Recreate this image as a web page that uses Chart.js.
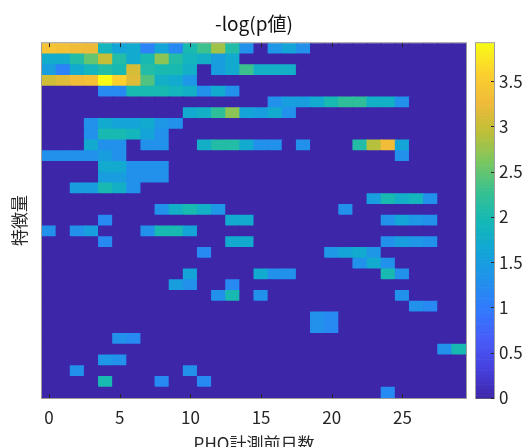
<!DOCTYPE html>
<html lang="ja">
<head>
<meta charset="utf-8">
<title>-log(p値)</title>
<script src="https://cdn.jsdelivr.net/npm/chart.js@4.4.1/dist/chart.umd.min.js"></script>
<style>
  html, body { margin: 0; padding: 0; background: #ffffff; overflow: hidden; }
  #box { width: 526px; height: 460px; }
</style>
</head>
<body>
<div id="box"><canvas id="heatmap" width="526" height="460"></canvas></div>
<script>
// PHQ計測前日数 (columns)
const days = [0, 1, 2, 3, 4, 5, 6, 7, 8, 9, 10, 11, 12, 13, 14, 15, 16, 17, 18, 19, 20, 21, 22, 23, 24, 25, 26, 27, 28, 29];
const xTicks = [0, 5, 10, 15, 20, 25];
const colorbarTicks = [0, 0.5, 1, 1.5, 2, 2.5, 3, 3.5];

// -log(p) for each 特徴量 row (top to bottom), one value per day
const logP = [
  [3.4, 3.35, 3.3, 3.25, 1.9, 1.6, 1.7, 1.1, 1.6, 1.2,  2.0, 2.3, 2.8, 2.1, 1.3, 0, 1.4, 1.6, 1.3, 0,  0, 0, 0, 0, 0, 0, 0, 0, 0, 0],
  [1.75, 1.75, 2.1, 2.5, 3.0, 2.1, 1.7, 2.0, 2.7, 2.1,  1.9, 1.8, 1.5, 1.7, 0, 0, 0, 0, 0, 0,  0, 0, 0, 0, 0, 0, 0, 0, 0, 0],
  [1.5, 1.1, 1.7, 1.9, 2.1, 2.0, 3.1, 2.1, 2.0, 2.0,  1.8, 0, 1.5, 1.7, 2.3, 1.8, 1.8, 1.8, 0, 0,  0, 0, 0, 0, 0, 0, 0, 0, 0, 0],
  [3.05, 3.15, 3.3, 3.35, 3.92, 3.6, 3.15, 2.4, 1.8, 1.7,  1.4, 0, 0, 0, 0, 0, 0, 0, 0, 0,  0, 0, 0, 0, 0, 0, 0, 0, 0, 0],
  [0, 0, 0, 0, 1.2, 1.2, 2.0, 2.0, 2.0, 1.9,  1.8, 1.3, 1.7, 1.3, 0, 0, 0, 0, 0, 0,  0, 0, 0, 0, 0, 0, 0, 0, 0, 0],
  [0, 0, 0, 0, 0, 0, 0, 0, 0, 0,  0, 0, 0, 0, 0, 0, 1.3, 1.5, 1.5, 1.7,  2.0, 2.2, 2.2, 1.8, 1.8, 1.3, 0, 0, 0, 0],
  [0, 0, 0, 0, 0, 0, 0, 0, 0, 0,  1.7, 1.8, 2.2, 2.7, 1.6, 1.5, 1.7, 1.3, 0, 0,  0, 0, 0, 0, 0, 0, 0, 0, 0, 0],
  [0, 0, 0, 1.3, 1.7, 1.6, 1.6, 1.7, 1.4, 1.3,  0, 0, 0, 0, 0, 0, 0, 0, 0, 0,  0, 0, 0, 0, 0, 0, 0, 0, 0, 0],
  [0, 0, 0, 1.3, 2.0, 2.0, 1.9, 1.6, 1.3, 0,  0, 0, 0, 0, 0, 0, 0, 0, 0, 0,  0, 0, 0, 0, 0, 0, 0, 0, 0, 0],
  [0, 0, 0, 1.7, 1.3, 1.3, 0, 1.3, 1.3, 0,  0, 1.8, 2.1, 2.1, 1.7, 1.3, 1.3, 0, 1.3, 0,  0, 0, 2.1, 2.9, 3.3, 1.6, 0, 0, 0, 0],
  [1.3, 1.3, 1.3, 1.3, 1.5, 1.3, 0, 0, 0, 0,  0, 0, 0, 0, 0, 0, 0, 0, 0, 0,  0, 0, 0, 0, 0, 1.3, 0, 0, 0, 0],
  [0, 0, 0, 0, 1.7, 1.7, 1.3, 1.3, 1.3, 0,  0, 0, 0, 0, 0, 0, 0, 0, 0, 0,  0, 0, 0, 0, 0, 0, 0, 0, 0, 0],
  [0, 0, 0, 0, 1.5, 1.5, 1.3, 1.3, 1.3, 0,  0, 0, 0, 0, 0, 0, 0, 0, 0, 0,  0, 0, 0, 0, 0, 0, 0, 0, 0, 0],
  [0, 0, 1.5, 1.5, 2.0, 1.8, 1.3, 0, 0, 0,  0, 0, 0, 0, 0, 0, 0, 0, 0, 0,  0, 0, 0, 0, 0, 0, 0, 0, 0, 0],
  [0, 0, 0, 0, 0, 0, 0, 0, 0, 0,  0, 0, 0, 0, 0, 0, 0, 0, 0, 0,  0, 0, 0, 1.5, 2.0, 1.8, 1.9, 1.3, 0, 0],
  [0, 0, 0, 0, 0, 0, 0, 0, 1.3, 1.8,  2.0, 1.8, 1.4, 0, 0, 0, 0, 0, 0, 0,  0, 1.3, 0, 0, 0, 0, 0, 0, 0, 0],
  [0, 0, 0, 0, 1.2, 0, 0, 0, 0, 0,  0, 0, 0, 1.7, 1.7, 0, 0, 0, 0, 0,  0, 0, 0, 0, 1.3, 1.6, 1.4, 1.3, 0, 0],
  [1.3, 0, 1.3, 1.5, 0, 0, 0, 1.3, 2.0, 2.0,  1.6, 0, 0, 0, 0, 0, 0, 0, 0, 0,  0, 0, 0, 0, 0, 0, 0, 0, 0, 0],
  [0, 0, 0, 0, 1.2, 0, 0, 0, 0, 0,  0, 0, 0, 1.7, 1.7, 0, 0, 0, 0, 0,  0, 0, 0, 0, 1.3, 1.5, 1.4, 1.3, 0, 0],
  [0, 0, 0, 0, 0, 0, 0, 0, 0, 0,  0, 1.2, 0, 0, 0, 0, 0, 0, 0, 0,  1.4, 1.6, 1.7, 1.4, 0, 0, 0, 0, 0, 0],
  [0, 0, 0, 0, 0, 0, 0, 0, 0, 0,  0, 0, 0, 0, 0, 0, 0, 0, 0, 0,  0, 0, 1.3, 1.7, 1.3, 0, 0, 0, 0, 0],
  [0, 0, 0, 0, 0, 0, 0, 0, 0, 0,  1.6, 0, 0, 0, 0, 1.7, 1.3, 1.3, 0, 0,  0, 0, 0, 0, 2.0, 1.3, 0, 0, 0, 0],
  [0, 0, 0, 0, 0, 0, 0, 0, 0, 1.5,  1.3, 0, 0, 1.2, 0, 0, 0, 0, 0, 0,  0, 0, 0, 0, 0, 0, 0, 0, 0, 0],
  [0, 0, 0, 0, 0, 0, 0, 0, 0, 0,  0, 0, 1.3, 2.0, 0, 1.3, 0, 0, 0, 0,  0, 0, 0, 0, 0, 1.3, 0, 0, 0, 0],
  [0, 0, 0, 0, 0, 0, 0, 0, 0, 0,  0, 0, 0, 0, 0, 0, 0, 0, 0, 0,  0, 0, 0, 0, 0, 0, 1.3, 1.2, 0, 0],
  [0, 0, 0, 0, 0, 0, 0, 0, 0, 0,  0, 0, 0, 0, 0, 0, 0, 0, 0, 1.3,  1.2, 0, 0, 0, 0, 0, 0, 0, 0, 0],
  [0, 0, 0, 0, 0, 0, 0, 0, 0, 0,  0, 0, 0, 0, 0, 0, 0, 0, 0, 1.3,  1.2, 0, 0, 0, 0, 0, 0, 0, 0, 0],
  [0, 0, 0, 0, 0, 1.3, 1.2, 0, 0, 0,  0, 0, 0, 0, 0, 0, 0, 0, 0, 0,  0, 0, 0, 0, 0, 0, 0, 0, 0, 0],
  [0, 0, 0, 0, 0, 0, 0, 0, 0, 0,  0, 0, 0, 0, 0, 0, 0, 0, 0, 0,  0, 0, 0, 0, 0, 0, 0, 0, 1.3, 2.0],
  [0, 0, 0, 0, 1.4, 1.3, 0, 0, 0, 0,  0, 0, 0, 0, 0, 0, 0, 0, 0, 0,  0, 0, 0, 0, 0, 0, 0, 0, 0, 0],
  [0, 0, 1.3, 0, 0, 0, 0, 0, 0, 0,  1.3, 0, 0, 0, 0, 0, 0, 0, 0, 0,  0, 0, 0, 0, 0, 0, 0, 0, 0, 0],
  [0, 0, 0, 0, 2.0, 0, 0, 0, 1.2, 0,  0, 1.2, 0, 0, 0, 0, 0, 0, 0, 0,  0, 0, 0, 0, 0, 0, 0, 0, 0, 0],
  [0, 0, 0, 0, 0, 0, 0, 0, 0, 0,  0, 0, 0, 0, 0, 0, 0, 0, 0, 0,  0, 0, 0, 0, 1.2, 0, 0, 0, 0, 0]
];

// parula colormap, equally spaced stops
const parulaStops = [
  [62, 38, 168], [70, 64, 222], [71, 92, 248], [50, 122, 253], [33, 145, 236],
  [18, 166, 214], [20, 184, 182], [56, 193, 144], [122, 199, 96], [190, 191, 56],
  [240, 186, 57], [252, 208, 46], [249, 251, 21]
];

const vmax = Math.max(...logP.flat());
const textColor = '#262626';
const fontFamily = "'Noto Sans CJK JP', 'Noto Sans', sans-serif";

function parula(v) {
  const n = parulaStops.length - 1;
  const t = Math.min(Math.max(v / vmax, 0), 1) * n;
  const i = Math.min(Math.floor(t), n - 1);
  const f = t - i;
  const a = parulaStops[i], b = parulaStops[i + 1];
  const c = a.map((x, k) => Math.round(x + (b[k] - x) * f));
  return `rgb(${c[0]}, ${c[1]}, ${c[2]})`;
}

// one cell per (row, day)
const cells = [];
logP.forEach((row, r) => {
  row.forEach((v, c) => {
    cells.push({ x: days[c], y: [r - 0.5, r + 0.5], v: v });
  });
});

// axes box, inward ticks and the colorbar
const framePlugin = {
  id: 'frame',
  afterDraw(chart) {
    const { ctx, chartArea: a, scales } = chart;
    ctx.save();

    ctx.strokeStyle = textColor;
    ctx.lineWidth = 1;
    xTicks.forEach(t => {
      const px = Math.round(scales.x.getPixelForValue(t)) + 0.5;
      ctx.beginPath();
      ctx.moveTo(px, a.bottom);
      ctx.lineTo(px, a.bottom - 4);
      ctx.moveTo(px, a.top);
      ctx.lineTo(px, a.top + 4);
      ctx.stroke();
    });

    ctx.strokeStyle = 'rgba(38, 38, 38, 0.45)';
    ctx.strokeRect(a.left - 0.5, a.top - 0.5, a.right - a.left + 1, a.bottom - a.top + 1);

    // colorbar
    const cb = scales.cb;
    const x0 = cb.left + 10;
    const w = 18;
    const steps = 128;
    for (let i = 0; i < steps; i++) {
      const v0 = vmax * i / steps;
      const v1 = vmax * (i + 1) / steps;
      const y0 = cb.getPixelForValue(v0);
      const y1 = cb.getPixelForValue(v1);
      ctx.fillStyle = parula((v0 + v1) / 2);
      ctx.fillRect(x0, y1, w, y0 - y1 + 0.6);
    }
    ctx.strokeStyle = 'rgba(38, 38, 38, 0.45)';
    ctx.strokeRect(x0 - 0.5, cb.top - 0.5, w + 1, cb.bottom - cb.top + 1);
    ctx.strokeStyle = textColor;
    colorbarTicks.forEach(t => {
      const py = Math.round(cb.getPixelForValue(t)) + 0.5;
      ctx.beginPath();
      ctx.moveTo(x0 + w, py);
      ctx.lineTo(x0 + w - 3, py);
      ctx.stroke();
    });

    ctx.restore();
  }
};

const ctx = document.getElementById('heatmap').getContext('2d');
new Chart(ctx, {
  type: 'bar',
  data: {
    datasets: [{
      data: cells,
      backgroundColor: c => parula(c.raw ? c.raw.v : 0),
      borderWidth: 0,
      barPercentage: 1,
      categoryPercentage: 1,
      inflateAmount: 0.5
    }]
  },
  options: {
    responsive: false,
    animation: false,
    devicePixelRatio: 1,
    layout: { padding: 0 },
    plugins: {
      legend: { display: false },
      tooltip: { enabled: false },
      title: {
        display: true,
        text: '-log(p値)',
        fullSize: false,
        color: '#111111',
        font: { family: fontFamily, size: 19, weight: 'normal' },
        padding: { top: 11, bottom: 8.2 }
      }
    },
    scales: {
      x: {
        type: 'linear',
        offset: false,
        min: days[0] - 0.5,
        max: days[days.length - 1] + 0.5,
        afterBuildTicks: s => { s.ticks = xTicks.map(v => ({ value: v })); },
        afterFit: s => { s.height = 62; },
        grid: { display: false, drawTicks: false },
        border: { display: false },
        ticks: { color: textColor, padding: 9, font: { family: fontFamily, size: 17 } },
        title: {
          display: true,
          text: 'PHQ計測前日数',
          color: textColor,
          font: { family: fontFamily, size: 17 },
          padding: { top: 0, bottom: 6 }
        }
      },
      y: {
        type: 'linear',
        reverse: true,
        min: -0.5,
        max: logP.length - 0.5,
        afterFit: s => { s.width = 42; },
        grid: { display: false, drawTicks: false },
        border: { display: false },
        ticks: { display: false },
        title: {
          display: true,
          text: '特徴量',
          color: textColor,
          font: { family: fontFamily, size: 17 },
          padding: { top: 9, bottom: 0 }
        }
      },
      cb: {
        type: 'linear',
        position: 'right',
        min: 0,
        max: vmax,
        afterBuildTicks: s => { s.ticks = colorbarTicks.map(v => ({ value: v })); },
        afterFit: s => { s.width = 60; },
        grid: { display: false, drawTicks: false },
        border: { display: false },
        ticks: {
          color: textColor,
          padding: 33,
          font: { family: fontFamily, size: 17 },
          callback: v => String(v)
        }
      }
    }
  },
  plugins: [framePlugin]
});
</script>
</body>
</html>
